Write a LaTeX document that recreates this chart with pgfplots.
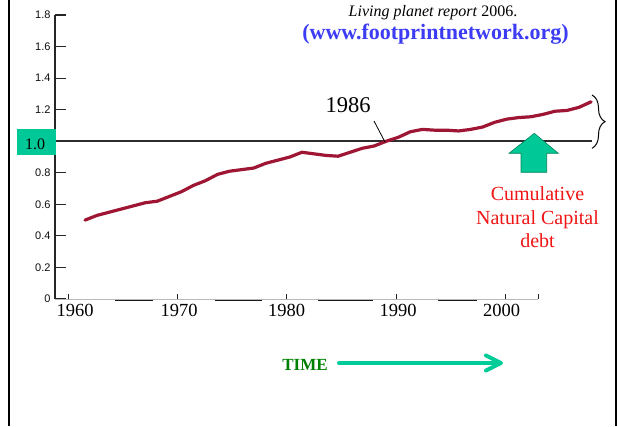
\documentclass[border=0pt]{standalone}
\usepackage{pgfplots}
\pgfplotsset{compat=1.18}
\usepackage{fontspec}
\setmainfont{Liberation Serif}
\newfontfamily\sansf{Liberation Sans}
\usetikzlibrary{decorations.pathreplacing}
\definecolor{curvecol}{RGB}{158,22,52}
\definecolor{boxgreen}{RGB}{0,200,150}
\definecolor{arrowedge}{RGB}{0,130,90}
\definecolor{timegreen}{RGB}{0,204,153}
\definecolor{timetext}{RGB}{0,128,0}
\definecolor{debtred}{RGB}{240,20,20}
\definecolor{urlblue}{RGB}{60,60,245}
\begin{document}
\begin{tikzpicture}
\path[use as bounding box] (0pt,0pt) rectangle (618pt,426pt);
\begin{axis}[
  at={(55pt,127pt)}, anchor=south west,
  scale only axis, width=537pt, height=284pt,
  xmin=1958.51, xmax=2003.07, ymin=0, ymax=1.8,
  clip=false,
  axis x line*=bottom, axis y line*=left,
  x axis line style={draw=none},
  y axis line style={draw=gray!30!black, line width=1.3pt, -},
  xtick={1960.17,1968.80,1977.74,1986.98,1995.58},
  xticklabels={1960,1970,1980,1990,2000},
  xtick style={draw=none},
  xticklabel style={font=\fontsize{18.5}{18.5}\selectfont, yshift=-2pt},
  ytick={0,0.2,0.4,0.6,0.8,1.0,1.2,1.4,1.6,1.8},
  yticklabels={0,0.2,0.4,0.6,0.8,{},1.2,1.4,1.6,1.8},
  yticklabel style={font=\sansf\fontsize{11}{11}\selectfont, text=gray!10!black, xshift=-1pt},
  major tick length=11pt, tick align=inside,
  ytick style={draw=gray!30!black, line width=1.1pt},
]
% x axis line (partial) and its darker segments
\draw[gray!55, line width=0.9pt] (axis cs:1958.51,0) -- (axis cs:1998.59,0);
\draw[gray!20!black, line width=1pt, yshift=-1.5pt] (axis cs:1963.49,0) -- (axis cs:1966.64,0);
\draw[gray!20!black, line width=1pt, yshift=-1.5pt] (axis cs:1971.79,0) -- (axis cs:1975.69,0);
\draw[gray!20!black, line width=1pt, yshift=-1.5pt] (axis cs:1980.34,0) -- (axis cs:1984.90,0);
\draw[gray!20!black, line width=1pt, yshift=-1.5pt] (axis cs:1990.29,0) -- (axis cs:1993.53,0);
\pgfplotsinvokeforeach{1959.61,1968.69,1977.71,1986.87,1995.88,1998.59}{
  \draw[gray!25!black, line width=1pt] (axis cs:#1,0) -- ([yshift=5pt]axis cs:#1,0);
}
% reference line at 1.0
\addplot[draw=gray!35!black, line width=1.5pt] coordinates {(1958.51,1) (2003.07,1)};
% ecological footprint / biocapacity
\addplot[curvecol, line width=3.2pt, line join=round, line cap=round] table {
x y
1961 0.50
1962 0.53
1963 0.55
1964 0.57
1965 0.59
1966 0.61
1967 0.62
1968 0.65
1969 0.68
1970 0.72
1971 0.75
1972 0.79
1973 0.81
1974 0.82
1975 0.83
1976 0.86
1977 0.88
1978 0.90
1979 0.93
1980 0.92
1981 0.91
1982 0.905
1983 0.93
1984 0.955
1985 0.97
1986 1.00
1987 1.025
1988 1.06
1989 1.075
1990 1.07
1991 1.07
1992 1.065
1993 1.075
1994 1.09
1995 1.12
1996 1.14
1997 1.15
1998 1.155
1999 1.17
2000 1.19
2001 1.195
2002 1.215
2003 1.25
};
\end{axis}
\begin{scope}[x=1pt,y=-1pt,shift={(0pt,426pt)}]
\draw[line width=2pt] (9,0) -- (9,426);
\draw[line width=2pt] (616,0) -- (616,426);
\fill[boxgreen] (17,129) rectangle (56,155);
\node[anchor=base, inner sep=0pt] at (35,149.5) {\fontsize{16}{16}\selectfont 1.0};
\node[anchor=base, inner sep=0pt] at (433,17) {\fontsize{16}{16}\selectfont\textit{Living planet report} 2006.};
\node[anchor=base, inner sep=0pt, text=urlblue] at (435.5,40) {\fontsize{22}{22}\selectfont\bfseries (www.footprintnetwork.org)};
\node[anchor=base, inner sep=0pt] at (348,113) {\fontsize{22.5}{22.5}\selectfont 1986};
\draw[line width=0.8pt] (374,121) -- (385,142);
\filldraw[fill=boxgreen, draw=arrowedge, line width=0.6pt, line join=miter]
  (534.3,133.3) -- (558.3,153.3) -- (546.7,153.3) -- (546.7,172.3) -- (521,172.3) -- (521,153.3) -- (509,153.3) -- cycle;
\node[anchor=base, inner sep=0pt, text=debtred] at (537.5,201) {\fontsize{20}{20}\selectfont Cumulative};
\node[anchor=base, inner sep=0pt, text=debtred] at (537.5,224.5) {\fontsize{20}{20}\selectfont Natural Capital};
\node[anchor=base, inner sep=0pt, text=debtred] at (537.5,248) {\fontsize{20}{20}\selectfont debt};
\draw[line width=1pt, decorate, decoration={brace, amplitude=13pt}] (592,95) -- (592,148.3);
\node[anchor=base, inner sep=0pt, text=timetext] at (305,370) {\fontsize{17}{17}\selectfont\bfseries TIME};
\draw[timegreen, line width=4pt, line cap=round] (339,363) -- (500,363);
\draw[timegreen, line width=4pt, line cap=round, line join=round] (486,355.5) -- (501,363) -- (486,370.5);
\end{scope}
\end{tikzpicture}
\end{document}
